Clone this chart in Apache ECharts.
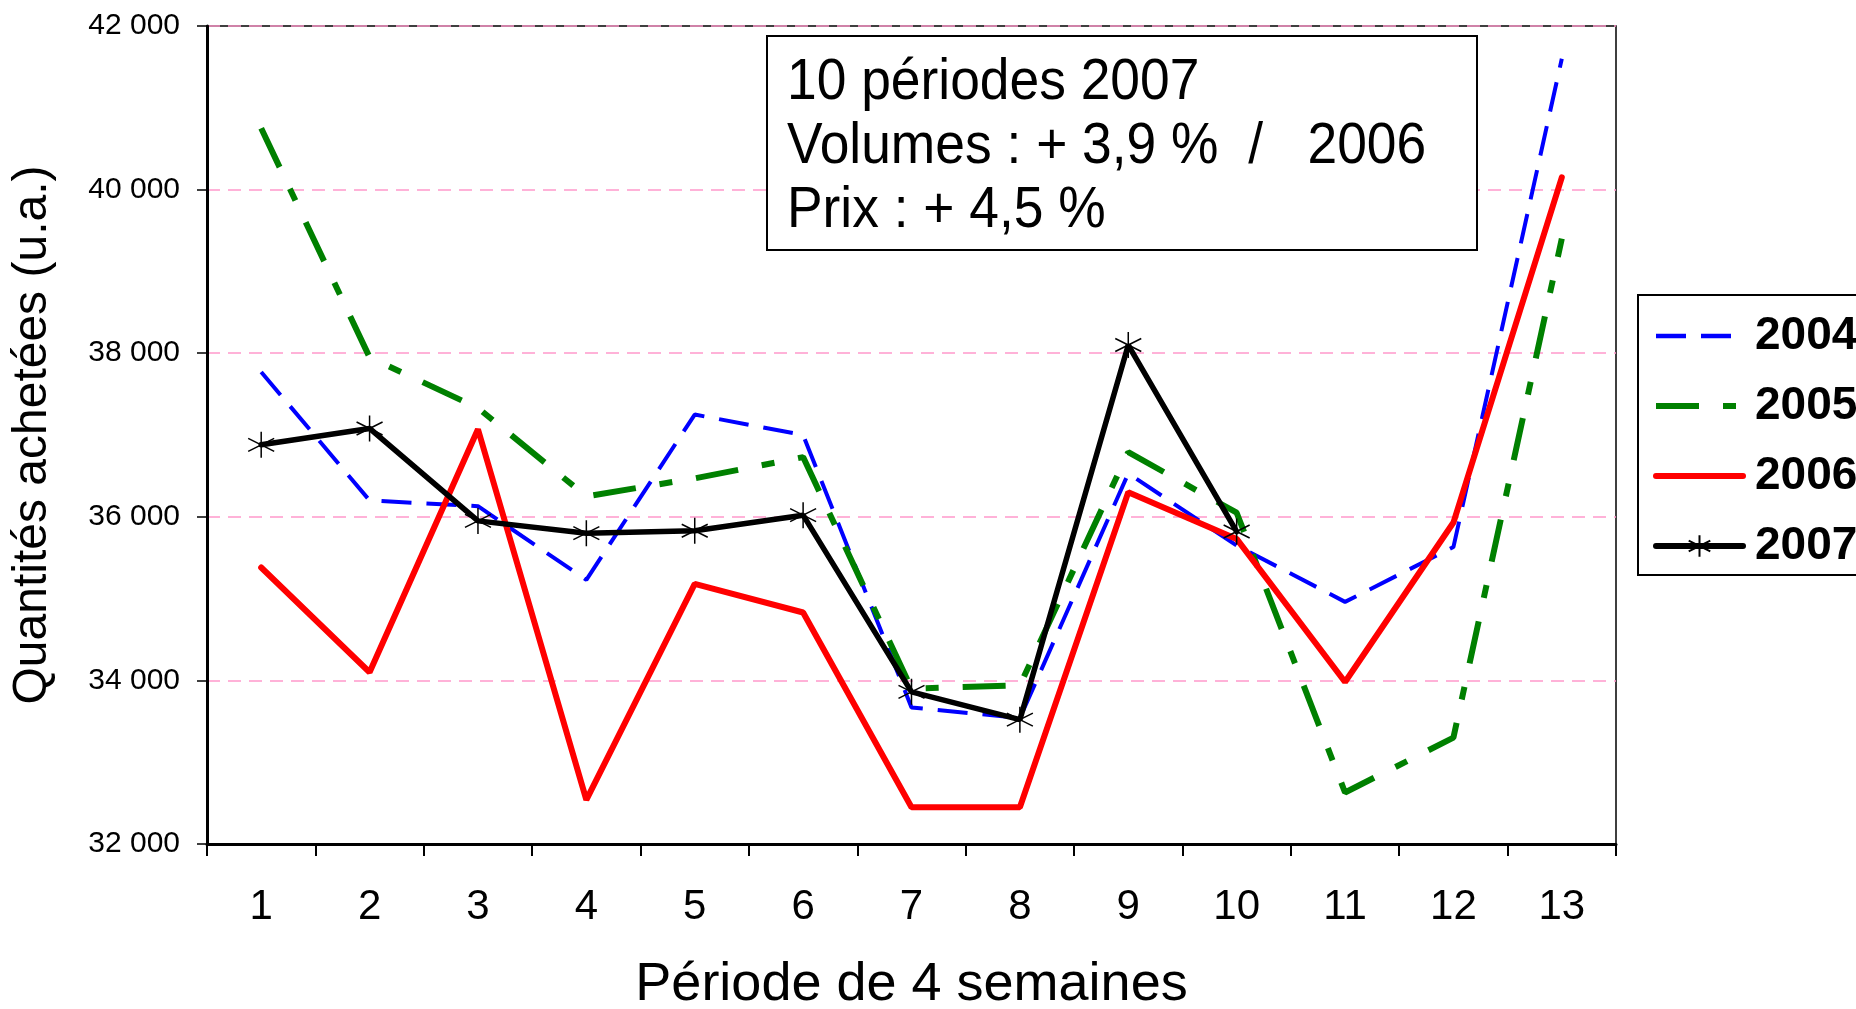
<!DOCTYPE html>
<html>
<head>
<meta charset="utf-8">
<script src="https://cdn.jsdelivr.net/npm/echarts@6/dist/echarts.min.js"></script>
<style>
html,body{margin:0;padding:0;background:#fff;}
#chart{width:1856px;height:1009px;}
</style>
</head>
<body>
<div id="chart"></div>
<script>
var periodes = ['1','2','3','4','5','6','7','8','9','10','11','12','13'];
var v2004 = [37770, 36200, 36130, 35230, 37250, 37000, 33670, 33540, 36530, 35650, 34960, 35630, 41600];
var v2005 = [40750, 37950, 37330, 36250, 36470, 36730, 33900, 33940, 36790, 36050, 32630, 33300, 39400];
var v2006 = [35380, 34100, 37070, 32540, 35180, 34830, 32450, 32450, 36300, 35730, 33980, 35930, 40150];
var v2007 = [36880, 37080, 35950, 35800, 35830, 36020, 33860, 33520, 38100, 35820];
var boxLines = ['10 périodes 2007', 'Volumes : + 3,9 %  /   2006', 'Prix : + 4,5 %'];

var myChart = echarts.init(document.getElementById('chart'));
var font = '"Liberation Sans", Arial, sans-serif';
// asterisque du 2007
var star = 'path://M0,-10L0,10M-8.66,-5L8.66,5M-8.66,5L8.66,-5';

var boxTexts = [];
for (var i = 0; i < boxLines.length; i++) {
	boxTexts.push({
		type: 'text',
		left: 787, top: 54 + i * 64,
		z: 101,
		scaleX: 0.92,
		style: {text: boxLines[i], font: '58px ' + font, fill: '#000'}
	});
}

var option = {
	animation: false,
	backgroundColor: '#fff',
	grid: {
		left: 207, right: 240, top: 26, bottom: 165,
		outerBoundsMode: 'none',
		show: true, borderColor: '#000', borderWidth: 1.5
	},
	legend: {
		orient: 'vertical',
		left: 1638, top: 295,
		padding: [18, 30, 6, 15],
		itemGap: 24,
		itemWidth: 87, itemHeight: 27,
		borderColor: '#000', borderWidth: 2,
		textStyle: {fontFamily: font, fontSize: 46, fontWeight: 'bold', color: '#000', padding: [0, 0, 0, 7]},
		data: [
			{name: '2004', itemStyle: {opacity: 0}, lineStyle: {width: 4.5}},
			{name: '2005', itemStyle: {opacity: 0}, lineStyle: {width: 6}},
			{name: '2006', itemStyle: {opacity: 0}, lineStyle: {width: 6}},
			{name: '2007', lineStyle: {width: 6}}
		]
	},
	xAxis: {
		type: 'category',
		data: periodes,
		boundaryGap: true,
		name: 'Période de 4 semaines',
		nameLocation: 'middle',
		nameGap: 114,
		nameTextStyle: {fontFamily: font, fontSize: 54, color: '#000'},
		axisLine: {lineStyle: {color: '#000', width: 3}},
		axisTick: {show: true, length: 12, lineStyle: {color: '#000', width: 2}},
		axisLabel: {fontFamily: font, fontSize: 42, color: '#000', margin: 42}
	},
	yAxis: {
		type: 'value',
		min: 32000, max: 42000, interval: 2000,
		name: 'Quantités achetées (u.a.)',
		nameLocation: 'middle',
		nameGap: 150,
		nameTextStyle: {fontFamily: font, fontSize: 48, color: '#000'},
		axisLine: {show: true, lineStyle: {color: '#000', width: 3}},
		axisTick: {show: true, length: 10, lineStyle: {color: '#000', width: 1.5}},
		axisLabel: {
			fontFamily: font, fontSize: 30, color: '#000', margin: 27,
			formatter: function (v) {
				return String(v).replace(/\B(?=(\d{3})+(?!\d))/g, ' ');
			}
		},
		splitLine: {show: true, lineStyle: {color: '#ff99cc', width: 1.5, type: [13, 8]}}
	},
	series: [
		{
			name: '2004', type: 'line', data: v2004,
			symbol: 'none',
			lineStyle: {color: '#0000ff', width: 4, type: [30, 15]},
			itemStyle: {color: '#0000ff'}
		},
		{
			name: '2005', type: 'line', data: v2005,
			symbol: 'none',
			lineStyle: {color: '#008000', width: 6, type: [43, 24, 13, 24]},
			itemStyle: {color: '#008000'}
		},
		{
			name: '2006', type: 'line', data: v2006,
			symbol: 'none',
			lineStyle: {color: '#ff0000', width: 6, cap: 'round'},
			itemStyle: {color: '#ff0000'}
		},
		{
			name: '2007', type: 'line', data: v2007,
			symbol: star, symbolSize: [26, 26], showSymbol: true,
			lineStyle: {color: '#000', width: 5.5, cap: 'round'},
			itemStyle: {color: '#000', borderColor: '#000', borderWidth: 1.5}
		}
	],
	graphic: [
		{
			type: 'rect',
			left: 766, top: 35, z: 100,
			shape: {width: 710, height: 214},
			style: {fill: '#fff', stroke: '#000', lineWidth: 2}
		}
	].concat(boxTexts)
};
myChart.setOption(option);
</script>
</body>
</html>
